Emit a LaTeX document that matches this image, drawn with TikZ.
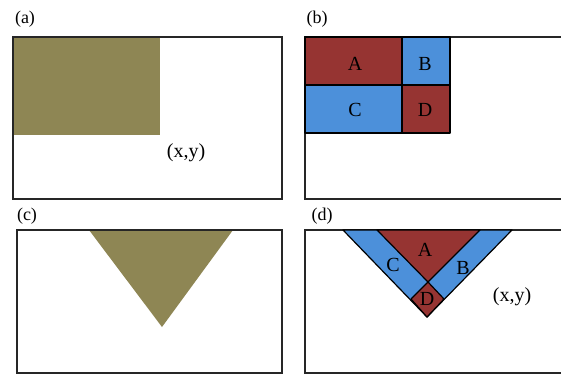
\documentclass[tikz,border=0pt]{standalone}
\usepackage{fontspec}
\setmainfont{Liberation Serif}
\usepackage{tikz}
\usetikzlibrary{positioning}

\definecolor{olive}{RGB}{142,134,84}
\definecolor{brick}{RGB}{150,52,50}
\definecolor{sky}{RGB}{76,144,218}

\begin{document}
\begin{tikzpicture}[x=1pt, y=-1pt,
		frame/.style={line width=1.8pt, black!85},
		part/.style={draw=black, line width=1.2pt, line join=round},
		lbl/.style={inner sep=0pt, font=\fontsize{20}{24}\selectfont},
		tag/.style={inner sep=0pt, font=\fontsize{18}{21}\selectfont},
	]
		\useasboundingbox (0,0) rectangle (561,378);
		
		% ---------------------- (a) ----------------------
		\node (taga) [tag] at (25,19) {(a)};
		\fill[olive] (13,37) rectangle (160,135);
		\draw[frame] (13,37) rectangle (282,199);
		\node (pa) [lbl] at (186,153) {(x,y)};
		
		% ---------------------- (b) ----------------------
		\node (tagb) [tag] at (317,19) {(b)};
		\draw[frame] (562,37) -- (305,37) -- (305,199) -- (562,199);
		\draw[part, fill=brick] (305,37) rectangle (402,85);
		\draw[part, fill=sky] (402,37) rectangle (450,85);
		\draw[part, fill=sky] (305,85) rectangle (402,133);
		\draw[part, fill=brick] (402,85) rectangle (450,133);
		\node (ba) [lbl] at (355,64) {A};
		\node (bb) [lbl] at (425,64) {B};
		\node (bc) [lbl] at (355,110) {C};
		\node (bd) [lbl] at (425,110) {D};
		
		% ---------------------- (c) ----------------------
		\node (tagc) [tag] at (27,216) {(c)};
		\fill[olive] (89,230) -- (233,230) -- (162,327) -- cycle;
		\draw[frame] (17,230) rectangle (282,373);
		
		% ---------------------- (d) ----------------------
		\node (tagd) [tag] at (322,216) {(d)};
		\draw[frame] (562,230) -- (305,230) -- (305,373) -- (562,373);
		\draw[part, fill=sky] (343,230) -- (512,230) -- (427,317) -- cycle;
		\draw[part, fill=brick] (377,230) -- (480,230) -- (428,282) -- cycle;
		\draw[part, fill=brick] (428,282) -- (444,299) -- (427,317) -- (411,299) -- cycle;
		\node (da) [lbl] at (425,250) {A};
		\node (dc) [lbl] at (393,265) {C};
		\node (db) [lbl] at (463,268) {B};
		\node (dd) [lbl] at (427,299) {D};
		\node (pd) [lbl] at (512,297) {(x,y)};
	\end{tikzpicture}
\end{document}
